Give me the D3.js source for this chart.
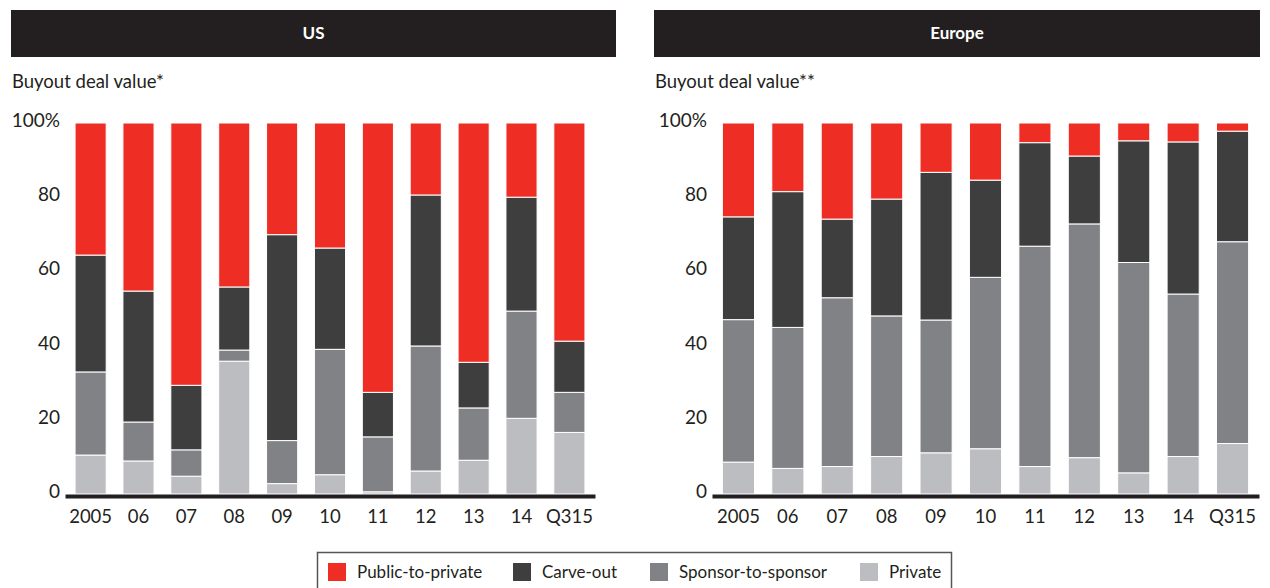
<!DOCTYPE html>
<html>
<head>
<meta charset="utf-8">
<script src="https://cdn.jsdelivr.net/npm/d3@7"></script>
<style>
  body { margin: 0; background: #fff; }
  svg { display: block; font-family: Lato, "Open Sans", sans-serif; }
</style>
</head>
<body>
<svg id="chart" width="1270" height="588"></svg>
<script>
const years = ["2005", "06", "07", "08", "09", "10", "11", "12", "13", "14", "Q315"];
const series = ["Public-to-private", "Carve-out", "Sponsor-to-sponsor", "Private"];
const colors = ["#ee2e24", "#3e3e3e", "#818286", "#bcbdc0"];
const yTicks = [0, 20, 40, 60, 80, 100];

// US shares (%) per year
const usPrivate = [10.5, 8.9, 4.8, 35.8, 2.8, 5.2, 0.6, 6.2, 9.1, 20.4, 16.6];
const usSponsor = [22.4, 10.5, 7.1, 3.0, 11.6, 33.8, 14.8, 33.7, 14.1, 28.9, 10.8];
const usCarve = [31.5, 35.3, 17.4, 17.0, 55.5, 27.3, 12.0, 40.7, 12.3, 30.7, 13.8];
const usPublic = [35.6, 45.3, 70.7, 44.2, 30.1, 33.7, 72.6, 19.4, 64.5, 20.0, 58.8];

// Europe shares (%) per year
const euPrivate = [8.6, 6.9, 7.4, 10.1, 11.1, 12.2, 7.4, 9.8, 5.7, 10.1, 13.6];
const euSponsor = [38.4, 38.0, 45.5, 37.9, 35.8, 46.2, 59.4, 63.0, 56.7, 43.8, 54.4];
const euCarve = [27.7, 36.6, 21.2, 31.5, 39.8, 26.2, 27.9, 18.3, 32.8, 41.0, 29.8];
const euPublic = [25.3, 18.5, 25.9, 20.5, 13.3, 15.4, 5.3, 8.9, 4.8, 5.1, 2.2];

const svg = d3.select("#chart");
const yTop = 123, yBottom = 494;

const y = d3.scaleLinear().domain([0, 100]).range([yBottom, yTop]);

function panel(opts) {
  const g = svg.append("g");

  // header bar
  g.append("rect")
    .attr("x", opts.hx0).attr("y", 10)
    .attr("width", opts.hx1 - opts.hx0).attr("height", 47)
    .attr("fill", "#231f20");
  g.append("text")
    .attr("x", (opts.hx0 + opts.hx1) / 2).attr("y", 33)
    .attr("dy", "0.35em")
    .attr("text-anchor", "middle")
    .attr("fill", "#fff")
    .attr("font-weight", "bold")
    .attr("font-size", 17)
    .text(opts.title);

  g.append("text")
    .attr("x", opts.hx0 + 1).attr("y", 88)
    .attr("font-size", 18.5)
    .attr("fill", "#231f20")
    .text(opts.subtitle);

  const x = d3.scaleBand()
    .domain(years)
    .range([opts.ax0, opts.ax1])
    .paddingInner(0.35)
    .paddingOuter(0.21);

  const rows = years.map((yr, i) => ({
    year: yr,
    "Private": opts.data[3][i],
    "Sponsor-to-sponsor": opts.data[2][i],
    "Carve-out": opts.data[1][i],
    "Public-to-private": opts.data[0][i]
  }));

  const stack = d3.stack().keys(["Private", "Sponsor-to-sponsor", "Carve-out", "Public-to-private"]);
  const layers = stack(rows);

  g.selectAll("g.layer")
    .data(layers)
    .enter()
    .append("g")
    .attr("class", "layer")
    .attr("fill", d => colors[series.indexOf(d.key)])
    .selectAll("rect")
    .data(d => d)
    .enter()
    .append("rect")
    .attr("x", d => x(d.data.year))
    .attr("y", d => y(Math.min(d[1], 100)))
    .attr("width", x.bandwidth())
    .attr("height", d => y(d[0]) - y(Math.min(d[1], 100)))
    .attr("stroke", "#fff")
    .attr("stroke-width", 1);

  // y axis
  const yAxis = g.append("g")
    .attr("transform", `translate(${opts.ax0 - 5},-2.5)`)
    .call(d3.axisLeft(y).tickValues(yTicks).tickSize(0).tickPadding(0)
      .tickFormat(d => d === 100 ? "100%" : d));
  yAxis.select(".domain").remove();
  yAxis.selectAll("text").attr("font-size", 19).attr("fill", "#231f20").attr("font-family", "Lato, sans-serif");

  // x axis
  const xAxis = g.append("g")
    .attr("transform", `translate(0,${yBottom + 2})`)
    .call(d3.axisBottom(x).tickSize(0).tickSizeOuter(0).tickPadding(14));
  xAxis.select(".domain").attr("stroke", "#231f20").attr("stroke-width", 4);
  xAxis.selectAll("text").attr("font-size", 18.5).attr("fill", "#231f20").attr("font-family", "Lato, sans-serif");
}

panel({
  title: "US", subtitle: "Buyout deal value*",
  hx0: 11, hx1: 616, ax0: 65, ax1: 595,
  data: [usPublic, usCarve, usSponsor, usPrivate]
});

panel({
  title: "Europe", subtitle: "Buyout deal value**",
  hx0: 654, hx1: 1260, ax0: 712, ax1: 1259,
  data: [euPublic, euCarve, euSponsor, euPrivate]
});

// legend
const legend = svg.append("g");
legend.append("rect")
  .attr("x", 317.5).attr("y", 552.5)
  .attr("width", 634).attr("height", 60)
  .attr("fill", "none")
  .attr("stroke", "#555")
  .attr("stroke-width", 1.5);

const legendX = [328, 513, 650, 860];
const item = legend.selectAll("g.item")
  .data(series)
  .enter()
  .append("g")
  .attr("class", "item")
  .attr("transform", (d, i) => `translate(${legendX[i]},563)`);
item.append("rect")
  .attr("width", 18).attr("height", 18)
  .attr("fill", (d, i) => colors[i]);
item.append("text")
  .attr("x", 29).attr("y", 9)
  .attr("dy", "0.35em")
  .attr("font-size", 17)
  .attr("fill", "#231f20")
  .text(d => d);
</script>
</body>
</html>
